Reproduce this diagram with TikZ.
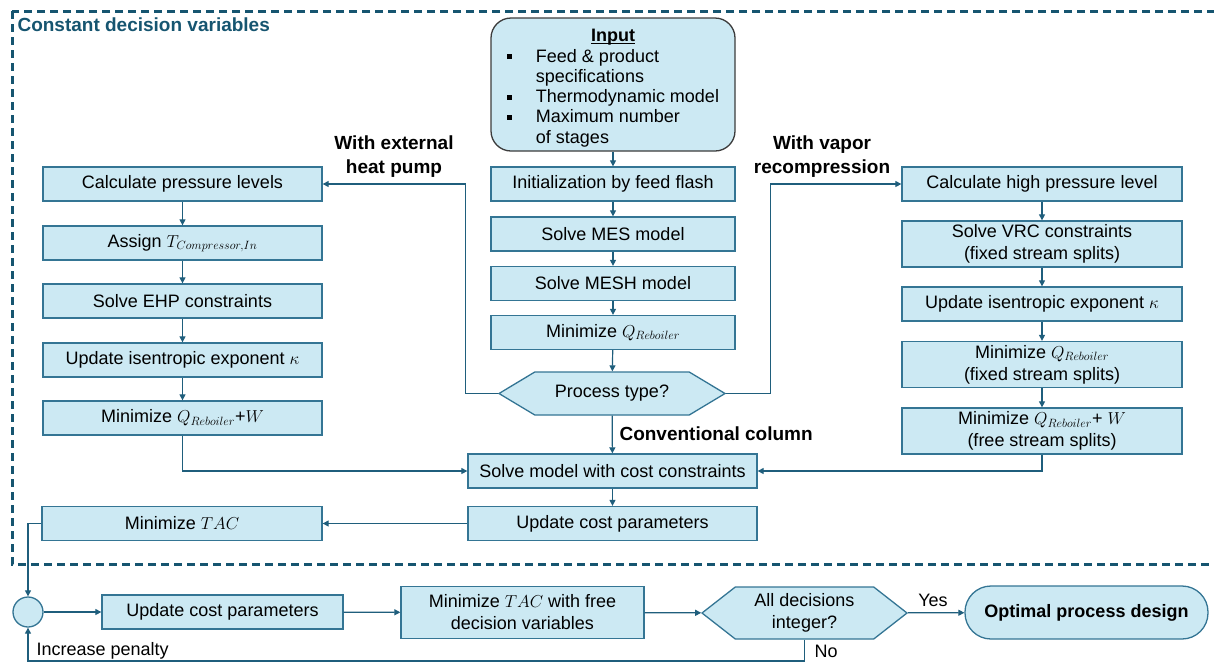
\documentclass[tikz,border=0pt]{standalone}
\usepackage{fontspec}
\setmainfont{Liberation Sans}
\usetikzlibrary{arrows.meta,positioning,shapes.symbols}

\definecolor{boxfill}{RGB}{204,233,243}
\definecolor{boxdraw}{RGB}{52,117,148}
\definecolor{linecol}{RGB}{31,94,124}
\definecolor{dashcol}{RGB}{22,85,112}
\definecolor{inputdraw}{RGB}{60,60,60}

\newcommand{\blt}{\rule[3pt]{5pt}{5pt}}

\tikzset{
  every node/.style={font=\fontsize{18}{22}\selectfont},
  procbox/.style={draw=boxdraw, fill=boxfill, line width=1.3pt, minimum height=34pt, align=center, inner sep=1pt},
  leftbox/.style={procbox, minimum width=279pt},
  midbox/.style={procbox, minimum width=244pt},
  costbox/.style={procbox, minimum width=289pt},
  rightbox/.style={procbox, minimum width=280pt},
  tallbox/.style={minimum height=46pt},
  hexa/.style={signal, signal to=east and west, draw=boxdraw, fill=boxfill, line width=1.3pt, align=center, inner sep=1pt},
  lbl/.style={font=\fontsize{19}{24}\selectfont\bfseries, align=center},
  arr/.style={draw=linecol, line width=1.2pt, -{Triangle[length=6pt,width=6pt]}}
}

\begin{document}
\begin{tikzpicture}[x=1pt,y=-1pt]
\useasboundingbox (0,0) rectangle (1214,665);

% Frame of the constant-decision stage
\draw[dashcol, line width=3pt, dash pattern=on 8pt off 5pt] (12,11) rectangle (1224,564);
\node[anchor=west, lbl, text=dashcol] (title) at (14,25) {Constant decision variables};

% Centre column
\node[draw=inputdraw, fill=boxfill, line width=1.3pt, rounded corners=20pt,
      minimum width=244pt, minimum height=133pt, inner sep=0pt] (input) at (613,84.5)
  {\fontsize{18}{20.3}\selectfont
   \begin{tabular}{@{}p{29pt}@{}l@{}}
   \multicolumn{2}{c}{\rule{0pt}{22pt}\textbf{\underline{\smash{Input}}}}\\
   \blt & Feed \& product\\
        & specifications\\
   \blt & Thermodynamic model\\
   \blt & Maximum number\\
        & of stages
   \end{tabular}};
\node[midbox] (init) at (613,184)   {Initialization by feed flash};
\node[midbox] (mes)  at (613,234)   {Solve MES model};
\node[midbox] (mesh) at (613,283.5) {Solve MESH model};
\node[midbox] (minq) at (613,332.5) {Minimize $Q_{Reboiler}$};
\node[hexa, minimum width=226pt, minimum height=43pt, signal pointer angle=62] (proc) at (612,393.5) {Process type?};
\node[costbox] (solvecost) at (612.5,471)  {Solve model with cost constraints};
\node[costbox] (updcost)   at (612.5,523.5) {Update cost parameters};

% Left column: external heat pump
\node[leftbox] (calcp)  at (182.5,184) {Calculate pressure levels};
\node[leftbox] (assign) at (182.5,243) {Assign $T_{Compressor,In}$};
\node[leftbox] (ehp)    at (182.5,301) {Solve EHP constraints};
\node[leftbox] (kapl)   at (182.5,360) {Update isentropic exponent $\kappa$};
\node[leftbox] (minqw)  at (182.5,418) {Minimize $Q_{Reboiler}$+$W$};

% Right column: vapor recompression
\node[rightbox] (calchp) at (1042,184) {Calculate high pressure level};
\node[rightbox, tallbox] (vrc)    at (1042,244)   {Solve VRC constraints\\(fixed stream splits)};
\node[rightbox] (kapr)   at (1042,304) {Update isentropic exponent $\kappa$};
\node[rightbox, tallbox] (minqf)  at (1042,364.5) {Minimize $Q_{Reboiler}$\\(fixed stream splits)};
\node[rightbox, tallbox] (minqwf) at (1042,431)   {Minimize $Q_{Reboiler}$+ $W$\\(free stream splits)};

% Bottom row
\node[leftbox, minimum width=280pt] (mintac) at (182,523.5) {Minimize $TAC$};
\node[circle, draw=boxdraw, fill=boxfill, line width=1.3pt, minimum size=30pt, inner sep=0pt] (merge) at (28,612) {};
\node[procbox, minimum width=241pt] (updcost2) at (222.5,612) {Update cost parameters};
\node[procbox, minimum width=243pt, minimum height=52pt] (mintacfree) at (522.5,612.5) {Minimize $TAC$ with free\\decision variables};
\node[hexa, minimum width=205pt, minimum height=52pt, signal pointer angle=76] (intdec) at (804.5,613) {All decisions\\integer?};
\node[procbox, rounded corners=26pt, minimum width=243pt, minimum height=53pt, font=\fontsize{18}{22}\selectfont\bfseries] (optimal) at (1086.5,612.5) {Optimal process design};

% Branch labels
\node[lbl] (lblehp) at (394,157) {With external\\heat pump};
\node[lbl] (lblvrc) at (822,157) {With vapor\\recompression};
\node[lbl, anchor=west] (lblconv) at (616,434) {Conventional column};
\node (lblyes) at (933,600) {Yes};
\node[anchor=west] (lblno) at (811,651) {No};
\node[anchor=west] (lblpen) at (33,651) {Increase penalty};
\coordinate (nocorner) at (804.5,661);

% Centre flow
\draw[arr] (input) -- (init);
\draw[arr] (init) -- (mes);
\draw[arr] (mes) -- (mesh);
\draw[arr] (mesh) -- (minq);
\draw[arr] (minq) -- (proc);
\draw[arr] (proc) -- (solvecost);
\draw[arr] (solvecost) -- (updcost);

% Branches
\draw[arr] (proc.west) -- ++(-32,0) |- (calcp.east);
\draw[arr] (proc.east) -- ++(44,0) |- (calchp.west);
\draw[arr] (calcp) -- (assign);
\draw[arr] (assign) -- (ehp);
\draw[arr] (ehp) -- (kapl);
\draw[arr] (kapl) -- (minqw);
\draw[arr] (calchp) -- (vrc);
\draw[arr] (vrc) -- (kapr);
\draw[arr] (kapr) -- (minqf);
\draw[arr] (minqf) -- (minqwf);
\draw[arr] (minqw.south) |- (solvecost.west);
\draw[arr] (minqwf.south) |- (solvecost.east);

% Free decision stage
\draw[arr] (updcost) -- (mintac);
\draw[arr] (mintac.west) -| (merge.north);
\draw[arr] (merge) -- (updcost2);
\draw[arr] (updcost2) -- (mintacfree);
\draw[arr] (mintacfree) -- (intdec);
\draw[arr] (intdec) -- (optimal);
\draw[arr] (intdec.south) -- (nocorner) -| (merge.south);

\end{tikzpicture}
\end{document}
